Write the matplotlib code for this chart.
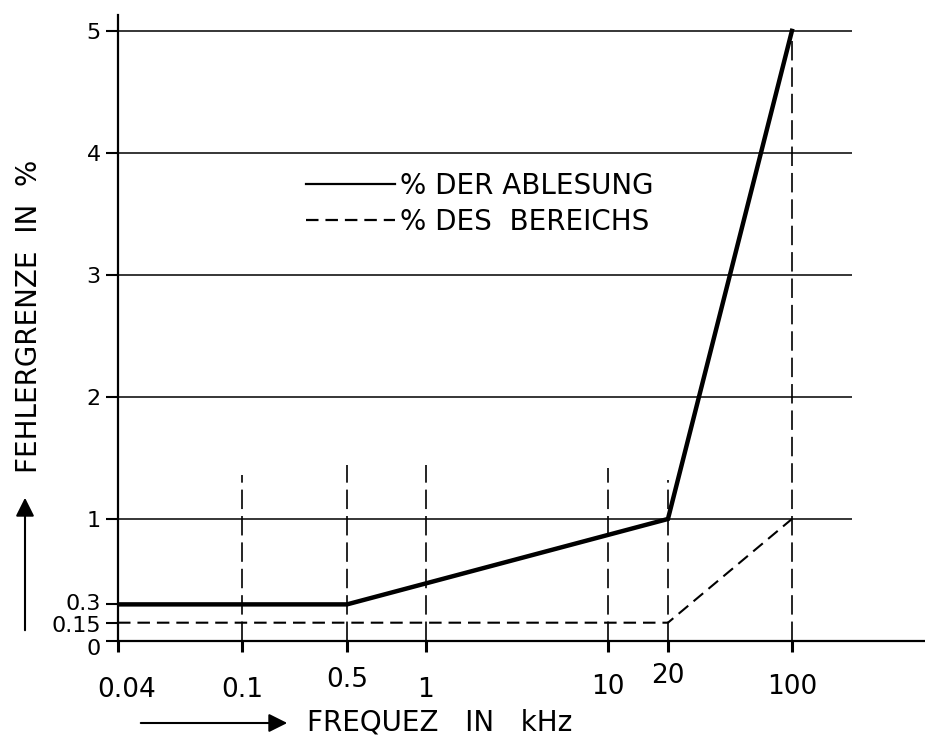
# -*- coding: utf-8 -*-
import numpy as np
import matplotlib
matplotlib.use("Agg")
import matplotlib.pyplot as plt
from matplotlib.ticker import NullLocator
from matplotlib.transforms import ScaledTranslation

# --------- 資料 ---------
freq_ticks  = [0.04, 0.1, 0.5, 1, 10, 20, 100]
freq_labels = ["0.04", "0.1", "0.5", "1", "10", "20", "100"]
err_ticks   = [0, 0.15, 0.3, 1, 2, 3, 4, 5]
err_labels  = ["0", "0.15", "0.3", "1", "2", "3", "4", "5"]

# % der Ablesung
f_reading = [0.04, 0.5, 20, 100]
e_reading = [0.3, 0.3, 1, 5]
# % des Bereichs
f_range = [0.04, 20, 100]
e_range = [0.15, 0.15, 1]

# senkrechte Hilfslinien
guide_f   = [0.1, 0.5, 1, 10, 20, 100]
guide_top = [1.36, 1.44, 1.44, 1.42, 1.32, 5]

grid_levels = [1, 2, 3, 4, 5]

# --------- 非均勻頻率軸（手繪刻度間距） ---------
axis_nodes_f = [0.001, 0.04, 0.1, 0.5, 1, 10, 20, 100, 10000]
axis_nodes_u = [-499, 0, 124, 229, 308, 490, 550, 674, 1029]
log_nodes = np.log10(axis_nodes_f)

def fwd(f):
    lf = np.log10(np.clip(np.asarray(f, dtype=float), 1e-6, None))
    return np.interp(lf, log_nodes, axis_nodes_u)

def inv(u):
    return 10 ** np.interp(np.asarray(u, dtype=float), axis_nodes_u, log_nodes)

def shift(lab, dx, dy):
    lab.set_transform(lab.get_transform() +
                      ScaledTranslation(dx/72, dy/72, fig.dpi_scale_trans))

plt.rcParams['font.family'] = ['DejaVu Sans']
plt.rcParams['lines.scale_dashes'] = False

fig = plt.figure(figsize=(9.25, 7.38), dpi=100)
ax = fig.add_axes([118/925, 97/738, 807/925, 626/738])
ax.set_xscale('function', functions=(fwd, inv))
ax.set_xlim(0.04, 562)
ax.set_ylim(0, 5.13)

# Gitterlinien
ax.hlines(grid_levels, 0.04, 218, colors='black', lw=1.1)
ax.vlines(guide_f, 0, guide_top, colors='black', lw=1.2,
          linestyles=[(0, (14, 5))])

ax.plot(f_reading, e_reading, color='black', lw=3.2,
        solid_joinstyle='miter', label='% DER ABLESUNG')
ax.plot(f_range, e_range, color='black', lw=1.5, dashes=(9, 5),
        label='% DES  BEREICHS')

for s in ['top', 'right']:
    ax.spines[s].set_visible(False)
for s in ['left', 'bottom']:
    ax.spines[s].set_linewidth(1.6)

ax.set_xticks(freq_ticks, freq_labels)
ax.xaxis.set_minor_locator(NullLocator())
ax.set_yticks(err_ticks, err_labels)
ax.tick_params(axis='x', direction='out', length=8, width=2.2, pad=19, labelsize=19)
ax.tick_params(axis='y', direction='out', length=8.5, width=1.5, pad=4, labelsize=16)

# einzelne Beschriftungen leicht versetzt (Handbeschriftung)
x_dx = [6, 0, 0, 0, 0, 0, 0]
x_dy = [1, 1, 8, 1, 3.6, 11, 3.6]
for lab, dx, dy in zip(ax.get_xticklabels(), x_dx, x_dy):
    shift(lab, dx, dy)
y_dy = [-4, -1, 2, 0, 0, 0, 0, 0]
for lab, dy in zip(ax.get_yticklabels(), y_dy):
    shift(lab, 0, dy)

leg = ax.legend(loc='center left', bbox_to_anchor=(0.202, 0.698), frameon=False,
                fontsize=20, handlelength=3.2, handletextpad=0.2, labelspacing=0.3)
for l in leg.get_lines():
    l.set_linewidth(1.6)

# Achsenbeschriftungen mit Pfeilen
fig.text(307/925, 16/738, "FREQUEZ   IN   kHz", fontsize=20, ha='left', va='center')
ax.annotate("", xy=(290/925, 15/738), xytext=(138/925, 15/738),
            xycoords='figure fraction', textcoords='figure fraction',
            arrowprops=dict(arrowstyle='-|>', color='black', lw=1.5, mutation_scale=28))

fig.text(29/925, (738-316)/738, "FEHLERGRENZE  IN  %", fontsize=20, rotation=90,
         ha='center', va='center')
ax.annotate("", xy=(25/925, (738-495)/738), xytext=(25/925, (738-633)/738),
            xycoords='figure fraction', textcoords='figure fraction',
            arrowprops=dict(arrowstyle='-|>', color='black', lw=1.5, mutation_scale=28))

fig.savefig("out.png", dpi=100)
